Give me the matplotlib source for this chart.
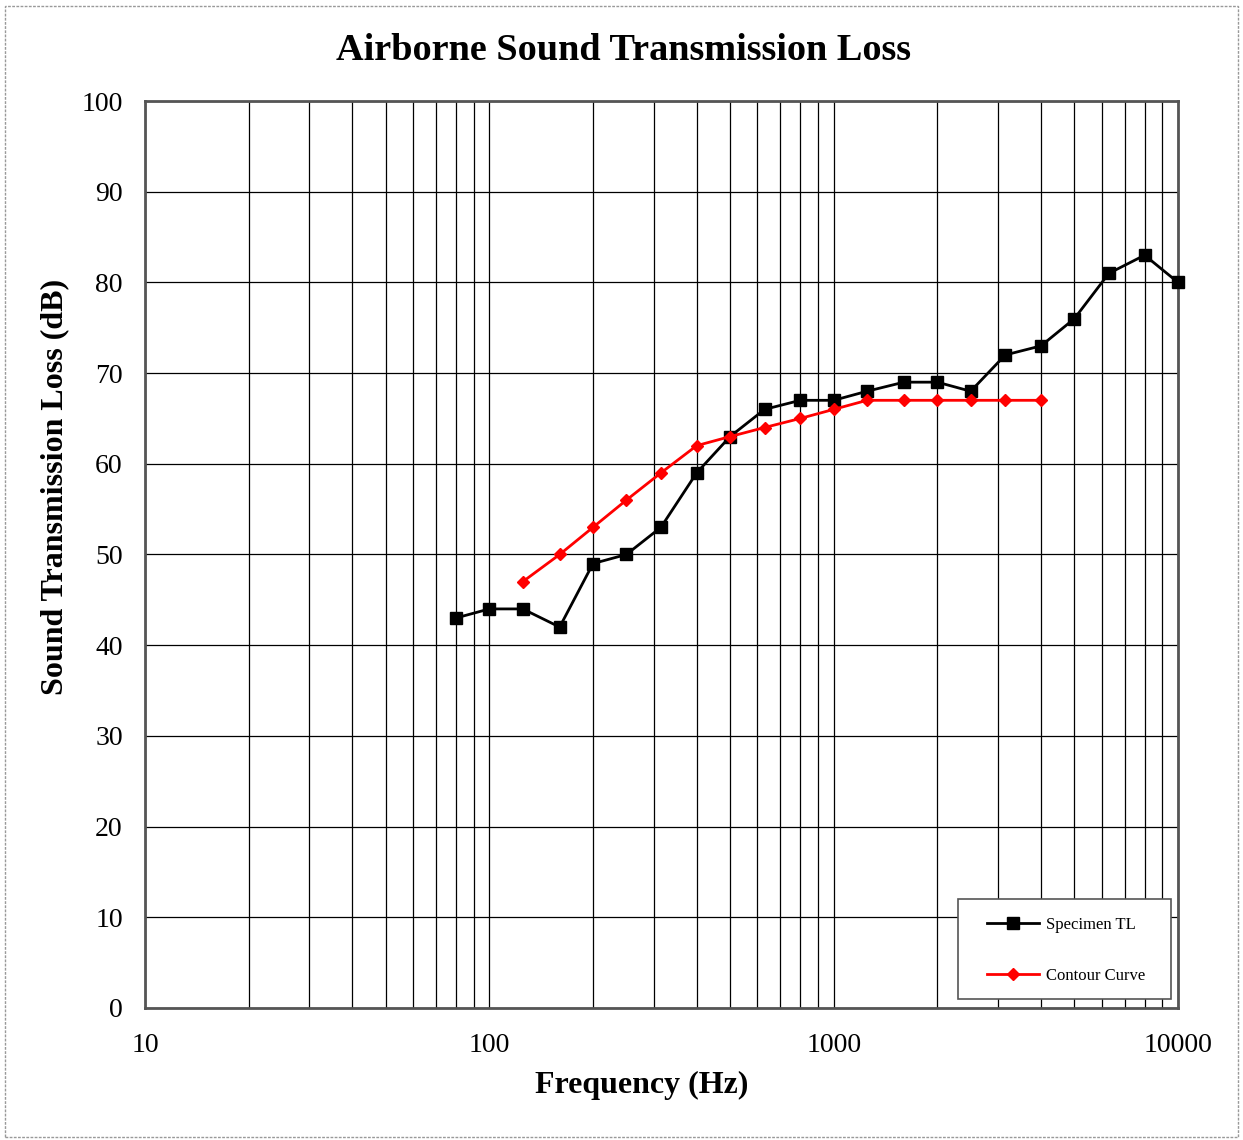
import numpy as np
import matplotlib.pyplot as plt
from matplotlib.patches import Rectangle
from matplotlib.ticker import FixedLocator, NullFormatter

plt.rcParams['font.family'] = ['Liberation Serif', 'DejaVu Serif']

# datos
freq_tl = [80, 100, 125, 160, 200, 250, 315, 400, 500, 630, 800, 1000,
           1250, 1600, 2000, 2500, 3150, 4000, 5000, 6300, 8000, 10000]
tl = [43, 44, 44, 42, 49, 50, 53, 59, 63, 66, 67, 67,
      68, 69, 69, 68, 72, 73, 76, 81, 83, 80]

freq_cc = [125, 160, 200, 250, 315, 400, 500, 630, 800, 1000,
           1250, 1600, 2000, 2500, 3150, 4000]
cc = [47, 50, 53, 56, 59, 62, 63, 64, 65, 66,
      67, 67, 67, 67, 67, 67]

xticks = [10, 100, 1000, 10000]
xticklabels = ['10', '100', '1000', '10000']

fig = plt.figure(figsize=(12.43, 11.4), dpi=100)
ax = fig.add_axes([0.1167, 0.1158, 0.8310, 0.7956])

ax.plot(freq_tl, tl, color='black', lw=2, marker='s', markersize=8.5,
        label='Specimen TL', zorder=3, clip_on=False)
ax.plot(freq_cc, cc, color='red', lw=2, marker='D', markersize=6.5,
        label='Contour Curve', zorder=4, clip_on=False)

ax.set_xscale('log')
ax.set_xlim(10, 10000)
ax.set_ylim(0, 100)
ax.set_xticks(xticks)
ax.set_xticklabels(xticklabels)
minors = [m * d for d in [10, 100, 1000] for m in range(2, 10)]
ax.xaxis.set_minor_locator(FixedLocator(minors))
ax.xaxis.set_minor_formatter(NullFormatter())
ax.set_yticks(np.arange(0, 101, 10))

ax.grid(True, which='both', axis='x', color='black', lw=0.9)
ax.grid(True, which='major', axis='y', color='black', lw=0.9)
ax.tick_params(which='both', length=0, labelsize=20, pad=16)
ax.tick_params(axis='x', pad=18)
for s in ax.spines.values():
    s.set_color('#555555')
    s.set_linewidth(2)

# titulos (centrados como en Excel)
fig.text(0.502, 0.956, 'Airborne Sound Transmission Loss', fontsize=27.5,
         fontweight='bold', ha='center', va='center')
fig.text(0.5165, 0.0482, 'Frequency (Hz)', fontsize=23, fontweight='bold',
         ha='center', va='center')
fig.text(0.0442, 0.5728, 'Sound Transmission Loss (dB)', fontsize=23,
         fontweight='bold', ha='center', va='center', rotation=90)

# leyenda con marco propio
ax.add_patch(Rectangle((0.787, 0.0099), 0.2062, 0.1103,
                       transform=ax.transAxes, facecolor='white',
                       edgecolor='#555555', lw=1.2, zorder=5))
leg = ax.legend(loc='upper left', bbox_to_anchor=(0.8151, 0.1002),
                fontsize=12, frameon=False, borderpad=0,
                labelspacing=2.1, handlelength=3.1,
                handletextpad=0.45, borderaxespad=0)
leg.set_zorder(6)

fig.patches.append(Rectangle((0.004, 0.003), 0.992, 0.992,
                             transform=fig.transFigure, fill=False,
                             edgecolor='#999999', lw=1, ls=(0, (2, 1))))

fig.savefig('out.png', dpi=100)
